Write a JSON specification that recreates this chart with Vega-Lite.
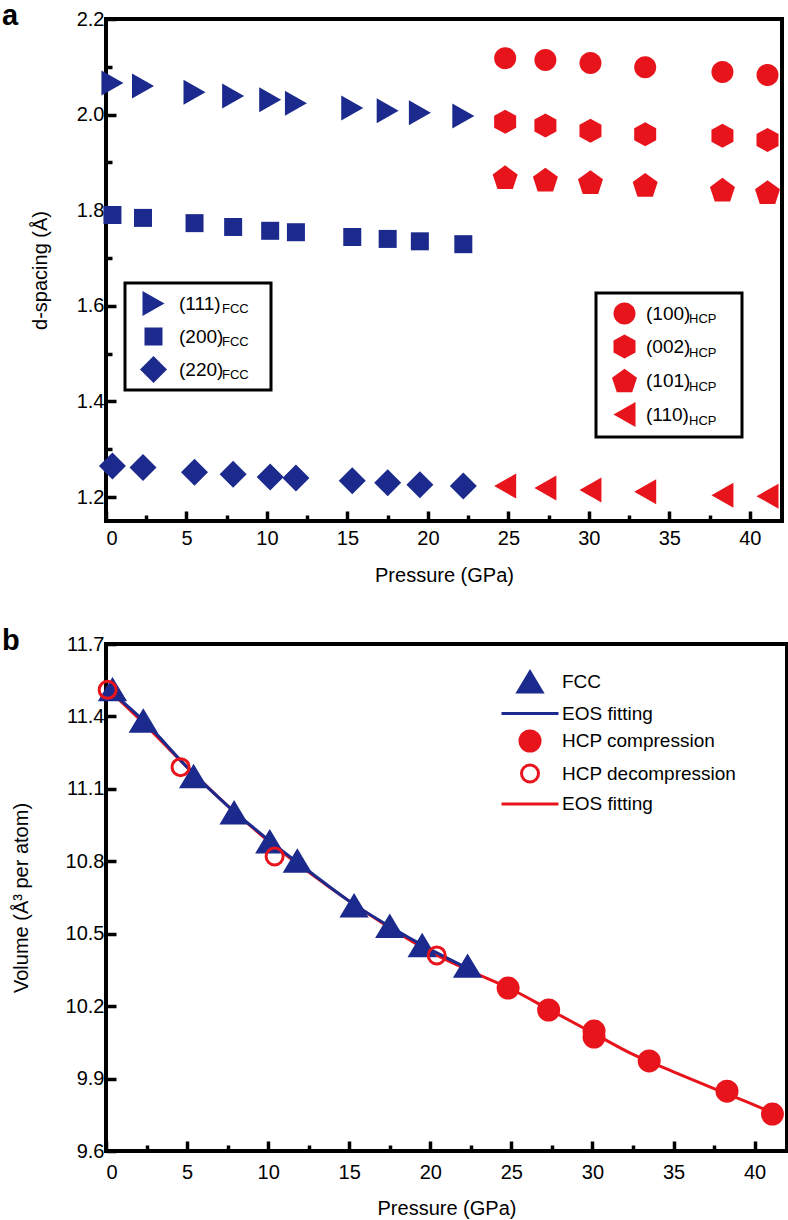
{
  "$schema": "https://vega.github.io/schema/vega-lite/v6.json",
  "background": "white",
  "padding": {"left": 0, "top": 0, "right": 2, "bottom": 4},
  "spacing": 38,
  "config": {
    "font": "Liberation Sans",
    "view": {"stroke": "black", "strokeWidth": 4},
    "axis": {
      "domain": false, "grid": false,
      "labelFontSize": 20, "labelColor": "black",
      "titleFontSize": 20, "titleFontWeight": "normal", "titleColor": "black",
      "tickColor": "black", "tickWidth": 3.5
    },
    "legend": {"labelColor": "black", "titleFontSize": 18, "strokeWidth": 3, "labelLimit": 400, "symbolOpacity": 1},
    "title": {"fontSize": 29, "fontWeight": "bold", "color": "black", "anchor": "start", "frame": "group", "baseline": "alphabetic", "offset": -22, "dx": -104}
  },
  "vconcat": [
    {
      "title": {"text": "a"},
      "width": 676,
      "height": 502,
      "data": {"values": [
        {"p": 0.4, "d": 2.066, "hkl": "(111)", "plane": "(111)FCC", "phase": "FCC"},
        {"p": 2.3, "d": 2.060, "hkl": "(111)", "plane": "(111)FCC", "phase": "FCC"},
        {"p": 5.5, "d": 2.047, "hkl": "(111)", "plane": "(111)FCC", "phase": "FCC"},
        {"p": 7.9, "d": 2.039, "hkl": "(111)", "plane": "(111)FCC", "phase": "FCC"},
        {"p": 10.2, "d": 2.031, "hkl": "(111)", "plane": "(111)FCC", "phase": "FCC"},
        {"p": 11.8, "d": 2.024, "hkl": "(111)", "plane": "(111)FCC", "phase": "FCC"},
        {"p": 15.3, "d": 2.014, "hkl": "(111)", "plane": "(111)FCC", "phase": "FCC"},
        {"p": 17.5, "d": 2.008, "hkl": "(111)", "plane": "(111)FCC", "phase": "FCC"},
        {"p": 19.5, "d": 2.004, "hkl": "(111)", "plane": "(111)FCC", "phase": "FCC"},
        {"p": 22.2, "d": 1.997, "hkl": "(111)", "plane": "(111)FCC", "phase": "FCC"},
        {"p": 0.4, "d": 1.790, "hkl": "(200)", "plane": "(200)FCC", "phase": "FCC"},
        {"p": 2.3, "d": 1.784, "hkl": "(200)", "plane": "(200)FCC", "phase": "FCC"},
        {"p": 5.5, "d": 1.773, "hkl": "(200)", "plane": "(200)FCC", "phase": "FCC"},
        {"p": 7.9, "d": 1.765, "hkl": "(200)", "plane": "(200)FCC", "phase": "FCC"},
        {"p": 10.2, "d": 1.757, "hkl": "(200)", "plane": "(200)FCC", "phase": "FCC"},
        {"p": 11.8, "d": 1.754, "hkl": "(200)", "plane": "(200)FCC", "phase": "FCC"},
        {"p": 15.3, "d": 1.744, "hkl": "(200)", "plane": "(200)FCC", "phase": "FCC"},
        {"p": 17.5, "d": 1.740, "hkl": "(200)", "plane": "(200)FCC", "phase": "FCC"},
        {"p": 19.5, "d": 1.735, "hkl": "(200)", "plane": "(200)FCC", "phase": "FCC"},
        {"p": 22.2, "d": 1.729, "hkl": "(200)", "plane": "(200)FCC", "phase": "FCC"},
        {"p": 0.4, "d": 1.265, "hkl": "(220)", "plane": "(220)FCC", "phase": "FCC"},
        {"p": 2.3, "d": 1.262, "hkl": "(220)", "plane": "(220)FCC", "phase": "FCC"},
        {"p": 5.5, "d": 1.252, "hkl": "(220)", "plane": "(220)FCC", "phase": "FCC"},
        {"p": 7.9, "d": 1.248, "hkl": "(220)", "plane": "(220)FCC", "phase": "FCC"},
        {"p": 10.2, "d": 1.242, "hkl": "(220)", "plane": "(220)FCC", "phase": "FCC"},
        {"p": 11.8, "d": 1.240, "hkl": "(220)", "plane": "(220)FCC", "phase": "FCC"},
        {"p": 15.3, "d": 1.234, "hkl": "(220)", "plane": "(220)FCC", "phase": "FCC"},
        {"p": 17.5, "d": 1.230, "hkl": "(220)", "plane": "(220)FCC", "phase": "FCC"},
        {"p": 19.5, "d": 1.226, "hkl": "(220)", "plane": "(220)FCC", "phase": "FCC"},
        {"p": 22.2, "d": 1.223, "hkl": "(220)", "plane": "(220)FCC", "phase": "FCC"},
        {"p": 24.8, "d": 2.118, "hkl": "(100)", "plane": "(100)HCP", "phase": "HCP"},
        {"p": 27.3, "d": 2.114, "hkl": "(100)", "plane": "(100)HCP", "phase": "HCP"},
        {"p": 30.1, "d": 2.108, "hkl": "(100)", "plane": "(100)HCP", "phase": "HCP"},
        {"p": 33.5, "d": 2.099, "hkl": "(100)", "plane": "(100)HCP", "phase": "HCP"},
        {"p": 38.3, "d": 2.089, "hkl": "(100)", "plane": "(100)HCP", "phase": "HCP"},
        {"p": 41.1, "d": 2.083, "hkl": "(100)", "plane": "(100)HCP", "phase": "HCP"},
        {"p": 24.8, "d": 1.985, "hkl": "(002)", "plane": "(002)HCP", "phase": "HCP"},
        {"p": 27.3, "d": 1.977, "hkl": "(002)", "plane": "(002)HCP", "phase": "HCP"},
        {"p": 30.1, "d": 1.966, "hkl": "(002)", "plane": "(002)HCP", "phase": "HCP"},
        {"p": 33.5, "d": 1.959, "hkl": "(002)", "plane": "(002)HCP", "phase": "HCP"},
        {"p": 38.3, "d": 1.956, "hkl": "(002)", "plane": "(002)HCP", "phase": "HCP"},
        {"p": 41.1, "d": 1.947, "hkl": "(002)", "plane": "(002)HCP", "phase": "HCP"},
        {"p": 24.8, "d": 1.869, "hkl": "(101)", "plane": "(101)HCP", "phase": "HCP"},
        {"p": 27.3, "d": 1.864, "hkl": "(101)", "plane": "(101)HCP", "phase": "HCP"},
        {"p": 30.1, "d": 1.859, "hkl": "(101)", "plane": "(101)HCP", "phase": "HCP"},
        {"p": 33.5, "d": 1.853, "hkl": "(101)", "plane": "(101)HCP", "phase": "HCP"},
        {"p": 38.3, "d": 1.843, "hkl": "(101)", "plane": "(101)HCP", "phase": "HCP"},
        {"p": 41.1, "d": 1.838, "hkl": "(101)", "plane": "(101)HCP", "phase": "HCP"},
        {"p": 24.8, "d": 1.223, "hkl": "(110)", "plane": "(110)HCP", "phase": "HCP"},
        {"p": 27.3, "d": 1.219, "hkl": "(110)", "plane": "(110)HCP", "phase": "HCP"},
        {"p": 30.1, "d": 1.215, "hkl": "(110)", "plane": "(110)HCP", "phase": "HCP"},
        {"p": 33.5, "d": 1.211, "hkl": "(110)", "plane": "(110)HCP", "phase": "HCP"},
        {"p": 38.3, "d": 1.204, "hkl": "(110)", "plane": "(110)HCP", "phase": "HCP"},
        {"p": 41.1, "d": 1.202, "hkl": "(110)", "plane": "(110)HCP", "phase": "HCP"}
      ]},
      "layer": [
        {
          "transform": [{"filter": "datum.phase === 'FCC'"}],
          "mark": {"type": "point", "filled": true, "color": "#1b2a8c", "size": 625},
          "encoding": {
            "x": {"field": "p", "type": "quantitative", "scale": {"domain": [0, 42], "nice": false},
              "axis": {"title": "Pressure (GPa)", "values": [0, 2.5, 5, 7.5, 10, 12.5, 15, 17.5, 20, 22.5, 25, 27.5, 30, 32.5, 35, 37.5, 40],
                "labelExpr": "datum.value % 5 === 0 ? datum.label : ''",
                "tickSize": {"condition": {"test": "datum.value % 5 === 0", "value": -10}, "value": -6},
                "labelPadding": 17, "titlePadding": 17}},
            "y": {"field": "d", "type": "quantitative", "scale": {"domain": [1.15, 2.2], "nice": false, "zero": false},
              "axis": {"title": "d-spacing (Å)", "values": [1.2, 1.3, 1.4, 1.5, 1.6, 1.7, 1.8, 1.9, 2.0, 2.1, 2.2], "format": ".1f",
                "labelExpr": "round(datum.value*10) % 2 === 0 ? datum.label : ''",
                "tickSize": {"condition": {"test": "round(datum.value*10) % 2 === 0", "value": -10}, "value": -6},
                "labelPadding": 12, "titlePadding": 26}},
            "shape": {"field": "hkl", "type": "nominal",
              "scale": {"domain": ["(111)", "(200)", "(220)"],
                "range": ["M-0.88,-1L0.88,0L-0.88,1Z", "M-0.72,-0.72L0.72,-0.72L0.72,0.72L-0.72,0.72Z", "M0,-1.08L1.08,0L0,1.08L-1.08,0Z"]},
              "legend": {"orient": "none", "legendX": 19, "legendY": 264, "title": null, "labelFontSize": 19,
                "symbolSize": 625, "symbolFillColor": "#1b2a8c", "symbolOpacity": 1,
                "padding": 7, "symbolOffset": 8, "labelOffset": 12, "rowPadding": 4}},
            "opacity": {"field": "plane", "type": "nominal",
              "scale": {"domain": ["(111)FCC", "(200)FCC", "(220)FCC"], "range": [1, 1, 1]},
              "legend": {"orient": "none", "legendX": 19, "legendY": 264, "title": null, "labelFontSize": 13, "labelBaseline": "top",
                "labelExpr": "'FCC\u00a0\u00a0\u00a0\u00a0\u200b'", "symbolType": "M0,-1.16L0,1.16", "symbolStrokeWidth": 0,
                "symbolSize": 625, "strokeColor": "black", "padding": 7, "symbolOffset": 53, "labelOffset": 12, "rowPadding": 4}}
          }
        },
        {
          "transform": [{"filter": "datum.phase === 'HCP'"}],
          "mark": {"type": "point", "filled": true, "color": "#e8141c", "size": 625},
          "encoding": {
            "x": {"field": "p", "type": "quantitative"},
            "y": {"field": "d", "type": "quantitative"},
            "shape": {"field": "hkl", "type": "nominal",
              "scale": {"domain": ["(100)", "(002)", "(101)", "(110)"],
                "range": ["M-0.88,0A0.88,0.88,0,1,0,0.88,0A0.88,0.88,0,1,0,-0.88,0Z", "M0,-0.96L0.88,-0.48L0.88,0.48L0,0.96L-0.88,0.48L-0.88,-0.48Z", "M0,-0.95L1,-0.224L0.617,0.949L-0.617,0.949L-1,-0.224Z", "M0.88,-1L-0.88,0L0.88,1Z"]},
              "legend": {"orient": "none", "legendX": 490, "legendY": 274, "title": null, "labelFontSize": 19,
                "symbolSize": 625, "symbolFillColor": "#e8141c", "symbolOpacity": 1,
                "padding": 7, "symbolOffset": 8, "labelOffset": 8, "rowPadding": 3}},
            "opacity": {"field": "plane", "type": "nominal",
              "scale": {"domain": ["(100)HCP", "(002)HCP", "(101)HCP", "(110)HCP"], "range": [1, 1, 1, 1]},
              "legend": {"orient": "none", "legendX": 490, "legendY": 274, "title": null, "labelFontSize": 13, "labelBaseline": "top",
                "labelExpr": "'HCP\u00a0\u00a0\u00a0\u00a0\u00a0\u200b'", "symbolType": "M0,-1.22L0,1.22", "symbolStrokeWidth": 0,
                "symbolSize": 625, "strokeColor": "black", "padding": 7, "symbolOffset": 53, "labelOffset": 8, "rowPadding": 3}}
          }
        }
      ],
      "resolve": {"scale": {"shape": "independent", "opacity": "independent"}, "legend": {"shape": "independent", "opacity": "independent"}}
    },
    {
      "title": {"text": "b"},
      "width": 681,
      "height": 507,
      "data": {"values": [
        {"p": 0.4, "v": 11.51, "series": "FCC"},
        {"p": 2.3, "v": 11.38, "series": "FCC"},
        {"p": 5.4, "v": 11.15, "series": "FCC"},
        {"p": 7.9, "v": 11.00, "series": "FCC"},
        {"p": 10.1, "v": 10.88, "series": "FCC"},
        {"p": 11.8, "v": 10.80, "series": "FCC"},
        {"p": 15.3, "v": 10.615, "series": "FCC"},
        {"p": 17.5, "v": 10.53, "series": "FCC"},
        {"p": 19.5, "v": 10.45, "series": "FCC"},
        {"p": 22.3, "v": 10.365, "series": "FCC"},
        {"p": 24.8, "v": 10.275, "series": "HCP compression"},
        {"p": 27.3, "v": 10.184, "series": "HCP compression"},
        {"p": 30.1, "v": 10.097, "series": "HCP compression"},
        {"p": 30.1, "v": 10.072, "series": "HCP compression"},
        {"p": 33.5, "v": 9.973, "series": "HCP compression"},
        {"p": 38.3, "v": 9.848, "series": "HCP compression"},
        {"p": 41.1, "v": 9.753, "series": "HCP compression"},
        {"p": 0.1, "v": 11.51, "series": "HCP decompression"},
        {"p": 4.6, "v": 11.19, "series": "HCP decompression"},
        {"p": 10.4, "v": 10.82, "series": "HCP decompression"},
        {"p": 20.4, "v": 10.41, "series": "HCP decompression"},
        {"p": 0, "v": 11.52, "series": "EOS fitting (FCC)"},
        {"p": 2.5, "v": 11.37, "series": "EOS fitting (FCC)"},
        {"p": 5, "v": 11.19, "series": "EOS fitting (FCC)"},
        {"p": 7.5, "v": 11.03, "series": "EOS fitting (FCC)"},
        {"p": 10, "v": 10.89, "series": "EOS fitting (FCC)"},
        {"p": 12.5, "v": 10.76, "series": "EOS fitting (FCC)"},
        {"p": 15, "v": 10.635, "series": "EOS fitting (FCC)"},
        {"p": 17.5, "v": 10.53, "series": "EOS fitting (FCC)"},
        {"p": 20, "v": 10.435, "series": "EOS fitting (FCC)"},
        {"p": 22.5, "v": 10.35, "series": "EOS fitting (FCC)"},
        {"p": 0, "v": 11.52, "series": "EOS fitting (HCP)"},
        {"p": 2.5, "v": 11.36, "series": "EOS fitting (HCP)"},
        {"p": 5, "v": 11.19, "series": "EOS fitting (HCP)"},
        {"p": 7.5, "v": 11.03, "series": "EOS fitting (HCP)"},
        {"p": 10, "v": 10.885, "series": "EOS fitting (HCP)"},
        {"p": 12.5, "v": 10.755, "series": "EOS fitting (HCP)"},
        {"p": 15, "v": 10.635, "series": "EOS fitting (HCP)"},
        {"p": 17.5, "v": 10.525, "series": "EOS fitting (HCP)"},
        {"p": 20, "v": 10.425, "series": "EOS fitting (HCP)"},
        {"p": 22.5, "v": 10.345, "series": "EOS fitting (HCP)"},
        {"p": 25, "v": 10.27, "series": "EOS fitting (HCP)"},
        {"p": 27.5, "v": 10.18, "series": "EOS fitting (HCP)"},
        {"p": 30, "v": 10.09, "series": "EOS fitting (HCP)"},
        {"p": 32.5, "v": 10.0, "series": "EOS fitting (HCP)"},
        {"p": 35, "v": 9.928, "series": "EOS fitting (HCP)"},
        {"p": 37.5, "v": 9.858, "series": "EOS fitting (HCP)"},
        {"p": 40, "v": 9.79, "series": "EOS fitting (HCP)"},
        {"p": 41.2, "v": 9.755, "series": "EOS fitting (HCP)"}
      ]},
      "layer": [
        {
          "transform": [{"filter": "datum.series === 'EOS fitting (HCP)'"}],
          "mark": {"type": "line", "strokeWidth": 3, "interpolate": "monotone"},
          "encoding": {
            "x": {"field": "p", "type": "quantitative", "scale": {"domain": [0, 42], "nice": false},
              "axis": {"title": "Pressure (GPa)", "values": [0, 2.5, 5, 7.5, 10, 12.5, 15, 17.5, 20, 22.5, 25, 27.5, 30, 32.5, 35, 37.5, 40],
                "labelExpr": "datum.value % 5 === 0 ? datum.label : ''",
                "tickSize": {"condition": {"test": "datum.value % 5 === 0", "value": -10}, "value": -6},
                "labelPadding": 21, "titlePadding": 16}},
            "y": {"field": "v", "type": "quantitative", "scale": {"domain": [9.6, 11.7], "nice": false, "zero": false},
              "axis": {"title": "Volume (Å³ per atom)", "values": [9.6, 9.75, 9.9, 10.05, 10.2, 10.35, 10.5, 10.65, 10.8, 10.95, 11.1, 11.25, 11.4, 11.55, 11.7], "format": ".1f",
                "labelExpr": "round(datum.value*100) % 30 === 0 ? datum.label : ''",
                "tickSize": {"condition": {"test": "round(datum.value*100) % 30 === 0", "value": -10}, "value": -6},
                "labelPadding": 12, "titlePadding": 34}},
            "stroke": {"field": "series", "type": "nominal",
              "scale": {"domain": ["FCC", "EOS fitting (FCC)", "HCP compression", "HCP decompression", "EOS fitting (HCP)"],
                "range": ["#1b2a8c", "#1b2a8c", "#e8141c", "#e8141c", "#e8141c"]},
              "legend": {"orient": "none", "legendX": 410, "legendY": 649, "title": null, "labelFontSize": 19,
                "symbolSize": 625, "symbolStrokeWidth": 3, "symbolOpacity": 1, "padding": 0, "labelOffset": 18, "rowPadding": 1.5,
                "labelExpr": "indexof(datum.label, 'EOS') === 0 ? 'EOS fitting' : datum.label"}}
          }
        },
        {
          "transform": [{"filter": "datum.series === 'EOS fitting (FCC)'"}],
          "mark": {"type": "line", "strokeWidth": 3, "interpolate": "monotone"},
          "encoding": {
            "x": {"field": "p", "type": "quantitative"},
            "y": {"field": "v", "type": "quantitative"},
            "stroke": {"field": "series", "type": "nominal"}
          }
        },
        {
          "transform": [{"filter": "indexof(datum.series, 'EOS') < 0"}],
          "mark": {"type": "point", "filled": true, "opacity": 1, "strokeWidth": 3, "size": 625},
          "encoding": {
            "x": {"field": "p", "type": "quantitative"},
            "y": {"field": "v", "type": "quantitative"},
            "stroke": {"field": "series", "type": "nominal"},
            "fill": {"field": "series", "type": "nominal",
              "scale": {"domain": ["FCC", "EOS fitting (FCC)", "HCP compression", "HCP decompression", "EOS fitting (HCP)"],
                "range": ["#1b2a8c", "transparent", "#e8141c", "transparent", "transparent"]},
              "legend": {"orient": "none", "legendX": 410, "legendY": 649, "title": null, "labelFontSize": 19,
                "symbolSize": 625, "symbolStrokeWidth": 3, "symbolOpacity": 1, "padding": 0, "labelOffset": 18, "rowPadding": 1.5,
                "labelExpr": "indexof(datum.label, 'EOS') === 0 ? 'EOS fitting' : datum.label"}},
            "shape": {"field": "series", "type": "nominal",
              "scale": {"domain": ["FCC", "EOS fitting (FCC)", "HCP compression", "HCP decompression", "EOS fitting (HCP)"],
                "range": ["M-0.96,0.8L0.96,0.8L0,-0.8Z", "M-2.28,0L2.28,0", "M-0.8,0A0.8,0.8,0,1,0,0.8,0A0.8,0.8,0,1,0,-0.8,0Z", "M-0.68,0A0.68,0.68,0,1,0,0.68,0A0.68,0.68,0,1,0,-0.68,0Z", "M-2.28,0L2.28,0"]},
              "legend": {"orient": "none", "legendX": 410, "legendY": 649, "title": null, "labelFontSize": 19,
                "symbolSize": 625, "symbolStrokeWidth": 3, "symbolOpacity": 1, "padding": 0, "labelOffset": 18, "rowPadding": 1.5,
                "labelExpr": "indexof(datum.label, 'EOS') === 0 ? 'EOS fitting' : datum.label"}}
          }
        }
      ]
    }
  ]
}
